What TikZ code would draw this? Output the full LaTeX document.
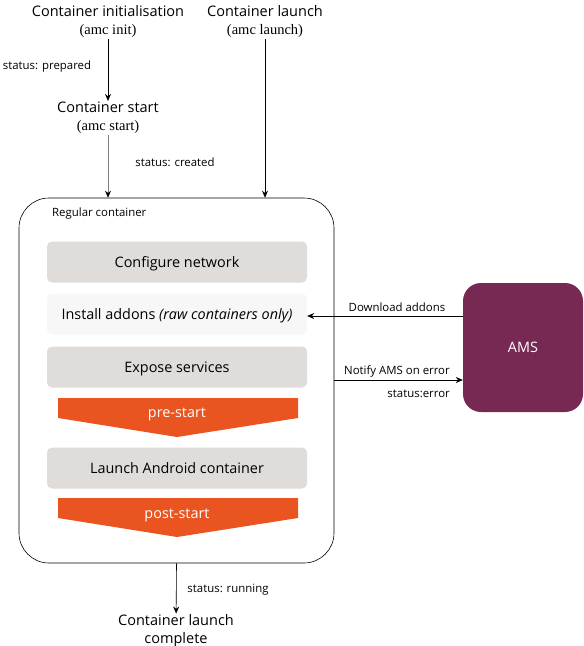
\documentclass[tikz,border=0pt]{standalone}
\usepackage{fontspec}
\setmainfont{Open Sans}
\newfontfamily\cmdfont{Liberation Serif}
\usetikzlibrary{positioning}
\usetikzlibrary{arrows.meta}
\definecolor{stepgrey}{HTML}{DFDCD9}
\definecolor{addongrey}{HTML}{F7F7F7}
\definecolor{ubuorange}{HTML}{E95420}
\definecolor{aubergine}{HTML}{772953}
\tikzset {
  % top level labels (what the user runs)
  phase/.style = {align=center, inner sep=1pt, font=\fontsize{14.5}{18}\selectfont},
  % status text next to arrows
  status/.style = {inner sep=0pt, font=\fontsize{11.4}{13}\selectfont},
  % the steps inside the container
  stepbox/.style = {fill=stepgrey, rounded corners=5pt, minimum width=260pt,
    minimum height=41pt, text height=10pt, text depth=0pt, font=\fontsize{14.4}{16}\selectfont},
  % hook text on the orange banners
  hooktext/.style = {text=white, font=\fontsize{14.4}{16}\selectfont},
  flow/.style = {-{Stealth[length=7pt, width=6pt, black]}, semithick},
}

\begin{document}
\begin{tikzpicture}[x=1pt, y=-1pt]
        \useasboundingbox (0,0) rectangle (584,646);

        \node[phase] (init) at (108,22) {Container initialisation\\{\cmdfont (amc init)}};
        \node[phase] (launch) at (265,22) {Container launch\\{\cmdfont (amc launch)}};
        \node[phase] (start) at (108,118) {Container start\\{\cmdfont (amc start)}};

        \node[draw, semithick, rounded corners=30pt, minimum width=315pt, minimum height=365pt] (cont) at (176.5,380.5) {};
        \node[status, anchor=west] (regular) at (52,214) {Regular container};

        \node[stepbox] (net) at (177,262) {Configure network};
        \node[stepbox, fill=addongrey] (addons) at (177,314) {Install addons \textit{(raw containers only)}};
        \node[stepbox] (expose) at (177,367) {Expose services};

        \fill[ubuorange] (58,398) -- (298,398) -- (298,418) -- (177,437) -- (58,418) -- cycle;
        \node[hooktext] (pre) at (177,414) {pre-start};

        \node[stepbox] (android) at (177,468) {Launch Android container};

        \fill[ubuorange] (58,498) -- (298,498) -- (298,518) -- (177,537) -- (58,518) -- cycle;
        \node[hooktext] (post) at (177,515) {post-start};

        \node[phase] (done) at (176,631) {Container launch\\complete};

        \node[fill=aubergine, rounded corners=18pt, minimum width=120pt, minimum height=129pt,
          text=white, font=\fontsize{14.4}{16}\selectfont] (ams) at (523,347.5) {AMS};

        \draw[flow] (init) -- (start);
        \draw[flow, draw=gray] (start.south) -- (start.south |- cont.north);
        \draw[flow] (launch) -- (launch |- cont.north);
        \draw[flow] (cont.south) -- (done);
        \draw[flow] (ams.west |- 0,316) -- (addons.east |- 0,316);
        \draw[flow] (cont.east |- 0,380) -- (ams.west |- 0,380);

        \node[status] at (47,67) {status: prepared};
        \node[status] at (175,162) {status: created};
        \node[status] at (228,590) {status: running};
        \node[status] at (397,307) {Download addons};
        \node[status] at (397,372) {Notify AMS on error};
        \node[status, anchor=east] at (450,394) {status:error};
\end{tikzpicture}
\end{document}
